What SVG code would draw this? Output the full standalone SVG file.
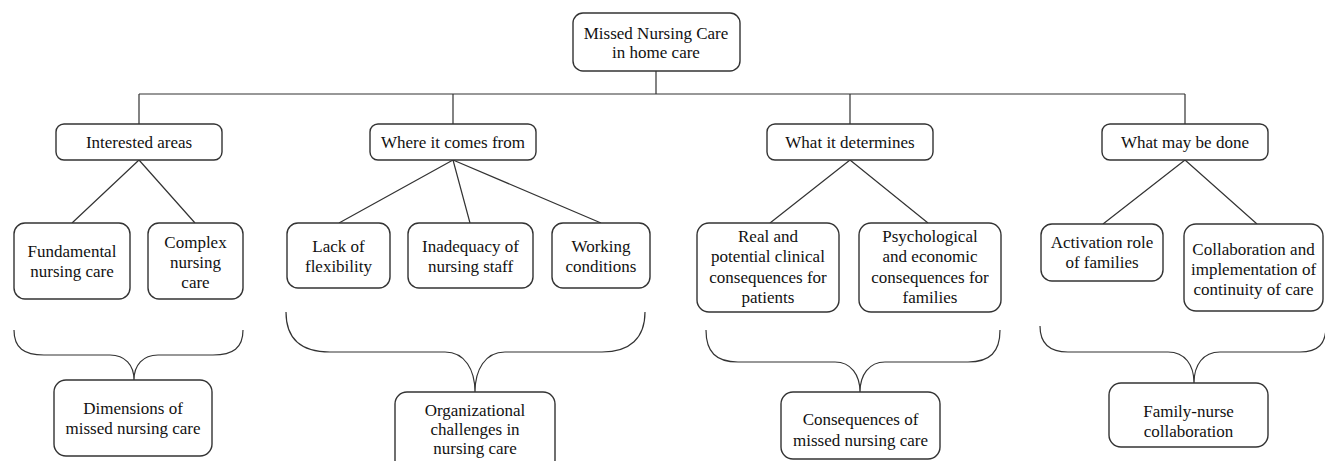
<svg xmlns="http://www.w3.org/2000/svg" width="1325" height="461" viewBox="0 0 1325 461">
<style>
.box{fill:#fff;stroke:#333;stroke-width:1.4}
.ln{fill:none;stroke:#333;stroke-width:1.2}
text{font-family:"Liberation Serif","Times New Roman",serif;font-size:17px;fill:#111;text-anchor:middle}
</style>
<rect width="1325" height="461" fill="#fff"/>
<g id="connectors">
<path class="ln" d="M656,71 V94 M139,94 H1185 M139,94 V124 M453,94 V124 M850,94 V124 M1185,94 V124"/>
<path class="ln" d="M139,160 L72,223 M139,160 L195,223"/>
<path class="ln" d="M453,160 L339,223 M453,160 L470,223 M453,160 L601,223"/>
<path class="ln" d="M850,160 L770,223 M850,160 L928,223"/>
<path class="ln" d="M1185,160 L1103,224 M1185,160 L1257,224"/>
<path class="ln" d="M14,330 C14,348 24,355 44,355 L110,355 C125,355 134,365 134,380 C134,365 143,355 158,355 L213,355 C233,355 243,348 243,330"/>
<path class="ln" d="M286,312 C286,338 300,352 330,352 L445,352 C465,352 475,370 475,392 C475,370 485,352 505,352 L602,352 C630,352 645,338 645,312"/>
<path class="ln" d="M706,330 C706,352 716,362 738,362 L835,362 C851,362 860,375 860,392 C860,375 869,362 885,362 L968,362 C990,362 1000,352 1000,330"/>
<path class="ln" d="M1040,326 C1040,344 1050,352 1068,352 L1168,352 C1185,352 1194,365 1194,383 C1194,365 1203,352 1220,352 L1300,352 C1318,352 1326,344 1326,326"/>
</g>
<g id="root"><rect class="box" x="573" y="13" width="167" height="58" rx="10"/><text x="656" y="39">Missed Nursing Care</text><text x="656" y="58">in home care</text></g>
<g id="interested"><rect class="box" x="56" y="124" width="166" height="36" rx="8"/><text x="139" y="148">Interested areas</text></g>
<g id="where"><rect class="box" x="370" y="124" width="166" height="36" rx="8"/><text x="453" y="148">Where it comes from</text></g>
<g id="determines"><rect class="box" x="767" y="124" width="166" height="36" rx="8"/><text x="850" y="148">What it determines</text></g>
<g id="done"><rect class="box" x="1102" y="124" width="166" height="36" rx="8"/><text x="1185" y="148">What may be done</text></g>
<g id="fundamental"><rect class="box" x="14" y="223" width="116" height="76" rx="11"/><text x="72" y="257">Fundamental</text><text x="72" y="277">nursing care</text></g>
<g id="complex"><rect class="box" x="148" y="223" width="95" height="76" rx="11"/><text x="195.5" y="248">Complex</text><text x="195.5" y="268">nursing</text><text x="195.5" y="288">care</text></g>
<g id="lack"><rect class="box" x="287" y="223" width="103" height="65" rx="11"/><text x="338.5" y="252">Lack of</text><text x="338.5" y="272">flexibility</text></g>
<g id="inadequacy"><rect class="box" x="408" y="223" width="125" height="65" rx="11"/><text x="470.5" y="252">Inadequacy of</text><text x="470.5" y="272">nursing staff</text></g>
<g id="working"><rect class="box" x="552" y="223" width="98" height="65" rx="11"/><text x="601" y="252">Working</text><text x="601" y="272">conditions</text></g>
<g id="real"><rect class="box" x="697" y="223" width="142" height="89" rx="12"/><text x="768" y="242">Real and</text><text x="768" y="262">potential clinical</text><text x="768" y="283">consequences for</text><text x="768" y="303">patients</text></g>
<g id="psych"><rect class="box" x="859" y="223" width="142" height="89" rx="12"/><text x="930" y="242">Psychological</text><text x="930" y="262">and economic</text><text x="930" y="283">consequences for</text><text x="930" y="303">families</text></g>
<g id="activation"><rect class="box" x="1041" y="224" width="122" height="57" rx="11"/><text x="1102" y="248">Activation role</text><text x="1102" y="268">of families</text></g>
<g id="collab"><rect class="box" x="1184" y="224" width="139" height="87" rx="12"/><text x="1253.5" y="255">Collaboration and</text><text x="1253.5" y="275">implementation of</text><text x="1253.5" y="295">continuity of care</text></g>
<g id="dimensions"><rect class="box" x="54" y="380" width="158" height="76" rx="12"/><text x="133" y="414">Dimensions of</text><text x="133" y="434">missed nursing care</text></g>
<g id="organizational"><rect class="box" x="395" y="392" width="160" height="80" rx="12"/><text x="475" y="416">Organizational</text><text x="475" y="435">challenges in</text><text x="475" y="454">nursing care</text></g>
<g id="consequences"><rect class="box" x="781" y="392" width="159" height="67" rx="12"/><text x="860.5" y="425">Consequences of</text><text x="860.5" y="446">missed nursing care</text></g>
<g id="family"><rect class="box" x="1109" y="383" width="159" height="64" rx="12"/><text x="1188.5" y="417">Family-nurse</text><text x="1188.5" y="437">collaboration</text></g>
</svg>
